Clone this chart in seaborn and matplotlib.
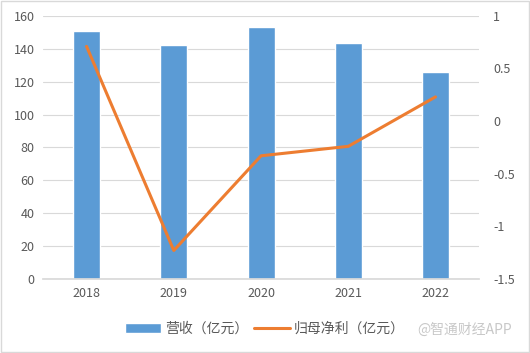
import matplotlib
matplotlib.use("Agg")
import matplotlib.pyplot as plt
import seaborn as sns
import pandas as pd

years = ["2018", "2019", "2020", "2021", "2022"]
revenue = [150.8, 142.5, 153.4, 143.6, 126.0]
net_profit = [0.71, -1.23, -0.33, -0.24, 0.23]

sns.set_theme(style="white")
plt.rcParams['font.family'] = ['Noto Sans CJK SC', 'DejaVu Sans']

df = pd.DataFrame({"year": years, "rev": revenue, "np": net_profit})

fig = plt.figure(figsize=(5.3, 3.53), dpi=100)
ax = fig.add_axes([0.081, 0.21, 0.823, 0.745])
sns.barplot(data=df, x="year", y="rev", color="#5B9BD5", width=0.31, ax=ax, saturation=1, label="营收（亿元）")
ax.set_ylim(0, 160)
ax.set_yticks(range(0, 161, 20))
ax.yaxis.grid(True, color="#D9D9D9", linewidth=0.8)
ax.set_axisbelow(True)
for s in ax.spines.values():
    s.set_visible(False)
ax.spines['bottom'].set_visible(True)
ax.spines['bottom'].set_color("#D9D9D9")
ax.set_xlabel("")
ax.set_ylabel("")
ax.tick_params(axis='both', colors="#595959", labelsize=9, length=0, pad=6)

ax2 = ax.twinx()
sns.lineplot(x=list(range(len(years))), y=net_profit, color="#ED7D31", linewidth=2.2, ax=ax2, label="归母净利（亿元）")
ax2.set_ylim(-1.5, 1)
ax2.set_yticks([-1.5, -1, -0.5, 0, 0.5, 1])
ax2.set_yticklabels(["-1.5", "-1", "-0.5", "0", "0.5", "1"])
for s in ax2.spines.values():
    s.set_visible(False)
ax2.tick_params(axis='y', colors="#595959", labelsize=9, length=0, pad=10)
ax.set_xlim(-0.5, 4.5)

h1, l1 = ax.get_legend_handles_labels()
h2, l2 = ax2.get_legend_handles_labels()
if ax.get_legend():
    ax.get_legend().remove()
if ax2.get_legend():
    ax2.get_legend().remove()
fig.legend(h1 + h2, l1 + l2, loc="center", bbox_to_anchor=(0.5, 0.068), ncol=2, frameon=False,
           fontsize=10, labelcolor="#595959", handlelength=2.6, columnspacing=0.4, handletextpad=0.3)

fig.text(0.966, 0.065, "@智通财经APP", ha="right", va="center", fontsize=10, color="#C8C8C8")
fig.patches.append(plt.Rectangle((0.002, 0.002), 0.996, 0.996, transform=fig.transFigure,
                                 fill=False, edgecolor="#D9D9D9", linewidth=1))
fig.savefig("out.png", dpi=100)
